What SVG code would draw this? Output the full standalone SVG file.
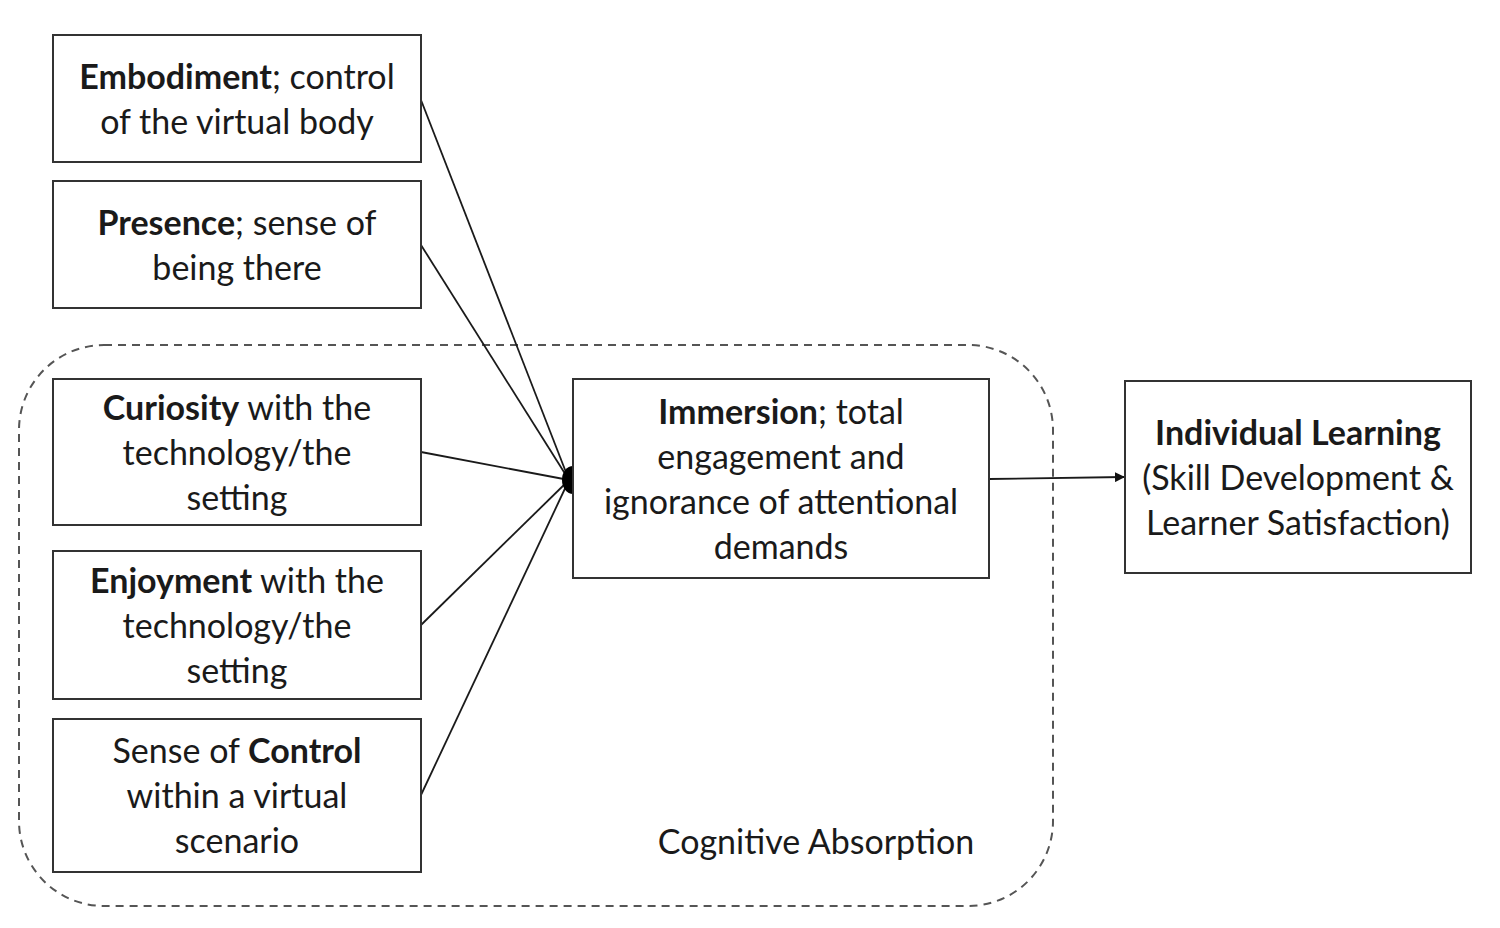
<svg xmlns="http://www.w3.org/2000/svg" width="1500" height="928" viewBox="0 0 1500 928">
<style>
.box{fill:#fff;stroke:#333;stroke-width:2}
.t{font-family:Lato,"Open Sans",sans-serif;font-size:34px;fill:#1a1a1a;text-anchor:middle}
.b{font-weight:bold}
.c{stroke:#1a1a1a;stroke-width:1.8;fill:none}
</style>
<defs>
<marker id="ah" markerWidth="10" markerHeight="10" refX="9" refY="5" orient="auto" markerUnits="userSpaceOnUse"><path d="M0,0 L10,5 L0,10 z" fill="#111"/></marker>
</defs>
<rect x="0" y="0" width="1500" height="928" fill="#fff"/>
<g id="cognitive-absorption">
<rect x="19" y="345" width="1034" height="561" rx="85" ry="85" fill="none" stroke="#555" stroke-width="2" stroke-dasharray="8,6"/>
<text class="t" x="816" y="854">Cognitive Absorption</text>
</g>
<g id="connectors">
<line class="c" x1="421" y1="100" x2="569" y2="480"/>
<line class="c" x1="421" y1="245" x2="569" y2="480"/>
<line class="c" x1="421" y1="452" x2="569" y2="480"/>
<line class="c" x1="421" y1="625" x2="569" y2="480"/>
<line class="c" x1="421" y1="795" x2="569" y2="480"/>
<path d="M573,466 A11,14 0 0 0 573,494 z" fill="#000"/>
<line class="c" x1="989" y1="479" x2="1124" y2="477" marker-end="url(#ah)"/>
</g>
<g id="embodiment">
<rect class="box" x="53" y="35" width="368" height="127"/>
<text class="t" x="237" y="89"><tspan class="b">Embodiment</tspan>; control</text>
<text class="t" x="237" y="134">of the virtual body</text>
</g>
<g id="presence">
<rect class="box" x="53" y="181" width="368" height="127"/>
<text class="t" x="237" y="235"><tspan class="b">Presence</tspan>; sense of</text>
<text class="t" x="237" y="280">being there</text>
</g>
<g id="curiosity">
<rect class="box" x="53" y="379" width="368" height="146"/>
<text class="t" x="237" y="420"><tspan class="b">Curiosity</tspan> with the</text>
<text class="t" x="237" y="465">technology/the</text>
<text class="t" x="237" y="510">setting</text>
</g>
<g id="enjoyment">
<rect class="box" x="53" y="551" width="368" height="148"/>
<text class="t" x="237" y="593"><tspan class="b">Enjoyment</tspan> with the</text>
<text class="t" x="237" y="638">technology/the</text>
<text class="t" x="237" y="683">setting</text>
</g>
<g id="control">
<rect class="box" x="53" y="719" width="368" height="153"/>
<text class="t" x="237" y="763">Sense of <tspan class="b">Control</tspan></text>
<text class="t" x="237" y="808">within a virtual</text>
<text class="t" x="237" y="853">scenario</text>
</g>
<g id="immersion">
<rect class="box" x="573" y="379" width="416" height="199"/>
<text class="t" x="781" y="424"><tspan class="b">Immersion</tspan>; total</text>
<text class="t" x="781" y="469">engagement and</text>
<text class="t" x="781" y="514">ignorance of attentional</text>
<text class="t" x="781" y="559">demands</text>
</g>
<g id="individual-learning">
<rect class="box" x="1125" y="381" width="346" height="192"/>
<text class="t b" x="1298" y="445">Individual Learning</text>
<text class="t" x="1298" y="490">(Skill Development &amp;</text>
<text class="t" x="1298" y="535">Learner Satisfaction)</text>
</g>
</svg>
